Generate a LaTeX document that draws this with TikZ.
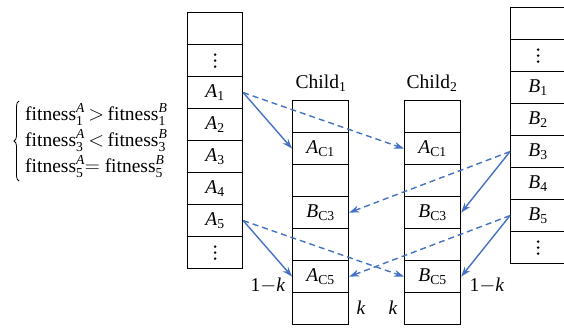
\documentclass[tikz,border=0pt]{standalone}
\usepackage{amsmath}
\usepackage{fontspec}
\setmainfont{Liberation Serif}
\usetikzlibrary{arrows.meta,decorations.pathreplacing}
\definecolor{linkblue}{RGB}{68,114,196}
\newcommand{\fit}[2]{fitness$^{\textit{#1}}_{\text{#2}}$}
\newcommand{\gene}[2]{$\textit{#1}_{\text{#2}}$}
\newcommand{\vdotsbig}{\tikz[baseline=-3pt]{\foreach \d in {-6,0,6} \fill (0,\d pt) circle (1.4pt);}}
\begin{document}
\begin{tikzpicture}[x=1pt,y=-1pt,
  cell/.style={draw,line width=1.2pt,minimum width=55pt,minimum height=32pt,inner sep=0pt,font=\fontsize{19.5}{22}\selectfont,anchor=north west},
  lbl/.style={font=\fontsize{19.5}{22}\selectfont,inner sep=0pt},
  solidlink/.style={draw=linkblue,line width=1.4pt,-{Stealth[length=10pt,width=7pt]}},
  dashlink/.style={draw=linkblue,line width=1.4pt,dash pattern=on 6pt off 4pt,-{Stealth[length=10pt,width=7pt]}}]
\useasboundingbox (0,0) rectangle (564,327);
\clip (0,0) rectangle (564,327);

% parent A
\node[cell] (a0) at (187,12) {};
\node[cell] (a1) at (187,44) {\vdotsbig};
\node[cell] (A1) at (187,76) {\gene{A}{1}};
\node[cell] (A2) at (187,108) {\gene{A}{2}};
\node[cell] (A3) at (187,140) {\gene{A}{3}};
\node[cell] (A4) at (187,172) {\gene{A}{4}};
\node[cell] (A5) at (187,204) {\gene{A}{5}};
\node[cell] (a7) at (187,236) {\vdotsbig};

% parent B (runs past the right edge)
\node[cell] (b0) at (510,7) {};
\node[cell] (b1) at (510,39) {\vdotsbig};
\node[cell] (B1) at (510,71) {\gene{B}{1}};
\node[cell] (B2) at (510,103) {\gene{B}{2}};
\node[cell] (B3) at (510,135) {\gene{B}{3}};
\node[cell] (B4) at (510,167) {\gene{B}{4}};
\node[cell] (B5) at (510,199) {\gene{B}{5}};
\node[cell] (b7) at (510,231) {\vdotsbig};

% child 1
\node[cell,minimum width=56pt] (c10) at (292,100) {};
\node[cell,minimum width=56pt] (c11) at (292,132) {\gene{A}{C1}};
\node[cell,minimum width=56pt] (c12) at (292,164) {};
\node[cell,minimum width=56pt] (c13) at (292,196) {\gene{B}{C3}};
\node[cell,minimum width=56pt] (c14) at (292,228) {};
\node[cell,minimum width=56pt] (c15) at (292,260) {\gene{A}{C5}};
\node[cell,minimum width=56pt] (c16) at (292,292) {};

% child 2
\node[cell,minimum width=56pt] (c20) at (404,100) {};
\node[cell,minimum width=56pt] (c21) at (404,132) {\gene{A}{C1}};
\node[cell,minimum width=56pt] (c22) at (404,164) {};
\node[cell,minimum width=56pt] (c23) at (404,196) {\gene{B}{C3}};
\node[cell,minimum width=56pt] (c24) at (404,228) {};
\node[cell,minimum width=56pt] (c25) at (404,260) {\gene{B}{C5}};
\node[cell,minimum width=56pt] (c26) at (404,292) {};

% headings
\node[lbl,anchor=base] (h1) at (321,88) {Child$_{\text{1}}$};
\node[lbl,anchor=base] (h2) at (432,88) {Child$_{\text{2}}$};

% crossover links
\draw[solidlink] (A1.east) -- (c11.west);
\draw[dashlink] (A1.east) -- (c21.west);
\draw[solidlink] (A5.east) -- (c15.west);
\draw[dashlink] (A5.east) -- (c25.west);
\draw[dashlink] (B3.west) -- (c13.east);
\draw[solidlink] (B3.west) -- (c23.east);
\draw[dashlink] (B5.west) -- (c15.east);
\draw[solidlink] (B5.west) -- (c25.east);

% weights
\node[lbl] (w1) at (268,286) {1$-$\textit{k}};
\node[lbl] (w2) at (361,308) {\textit{k}};
\node[lbl] (w3) at (393,308) {\textit{k}};
\node[lbl] (w4) at (487,286) {1$-$\textit{k}};

% fitness comparison
\node[lbl,anchor=base west] (f1) at (25,120) {\fit{A}{1}$\,>\,$\fit{B}{1}};
\node[lbl,anchor=base west] (f3) at (25,146) {\fit{A}{3}$\,<\,$\fit{B}{3}};
\node[lbl,anchor=base west] (f5) at (25,172) {\fit{A}{5}$=$ \fit{B}{5}};
\coordinate (bt) at (19,101);
\coordinate (bb) at (19,181);
\draw[line width=0.8pt,decorate,decoration={brace,amplitude=5pt}] (bb) -- (bt);
\end{tikzpicture}
\end{document}
